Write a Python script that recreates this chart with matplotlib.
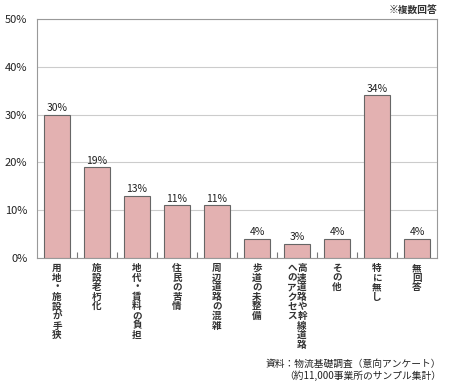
import matplotlib
matplotlib.use("Agg")
import matplotlib.pyplot as plt
import numpy as np

plt.rcParams['font.family'] = ['Noto Sans CJK JP', 'DejaVu Sans']

categories = ["用地・施設が手狭", "施設老朽化", "地代・賃料の負担", "住民の苦情", "周辺道路の混雑",
              "歩道の未整備", "高速道路や幹線道路\nへのアクセス", "その他", "特に無し", "無回答"]
values = [30, 19, 13, 11, 11, 4, 3, 4, 34, 4]
yticks = [0, 10, 20, 30, 40, 50]
note = "※複数回答"
source = "資料：物流基礎調査（意向アンケート）\n（約11,000事業所のサンプル集計）"

W, H = 450, 390
fig = plt.figure(figsize=(W / 100, H / 100), dpi=100)
ax = fig.add_axes([37/W, 1-258/H, 400/W, 239/H])

n = len(categories)
x = np.arange(n)
ax.bar(x, values, width=0.63, color='#e3b1b1', edgecolor='#666666', linewidth=0.8, zorder=3)
for xi, v in zip(x, values):
    ax.text(xi, v + 0.3, f"{v}%", ha='center', va='bottom', fontsize=7.5, color='#222222', zorder=4)

ax.set_xlim(-0.5, n - 0.5)
ax.set_ylim(0, 50)
ax.set_yticks(yticks)
ax.set_yticklabels([f"{t}%" for t in yticks], fontsize=8, color='#222222')
ax.yaxis.grid(True, color='#cccccc', linewidth=0.8, zorder=0)
ax.tick_params(axis='y', length=0, pad=7)
ax.set_xticks(np.arange(n - 1) + 0.5)
ax.set_xticklabels([])
ax.tick_params(axis='x', direction='in', length=4, color='#777777', width=0.8)
for s in ax.spines.values():
    s.set_color('#999999')
    s.set_linewidth(0.8)

# vertical category labels (Japanese vertical writing: columns right to left)
pitch_pt = 9.6 * 72 / 100   # character pitch in points (~9.6 px)
col_pt = 10 * 72 / 100      # column spacing (~10 px)
start_pt = -5 * 72 / 100
for xi, lab in zip(x, categories):
    cols = lab.split("\n")
    k = len(cols)
    for j, col in enumerate(cols):
        dx = ((k - 1) / 2 - j) * col_pt
        for i, ch in enumerate(col):
            ax.annotate(ch, xy=(xi, 0), xycoords='data',
                        xytext=(dx, start_pt - i * pitch_pt), textcoords='offset points',
                        ha='center', va='top', fontsize=6.9, fontweight='bold', color='#333333',
                        annotation_clip=False)

fig.text(437/W, 1-10/H, note, ha='right', va='center', fontsize=7, fontweight='bold', color='#333333')
fig.text(441/W, 1-370/H, source, ha='right', va='center', fontsize=7, color='#222222', linespacing=1.25)

fig.savefig("out.png", dpi=100)
